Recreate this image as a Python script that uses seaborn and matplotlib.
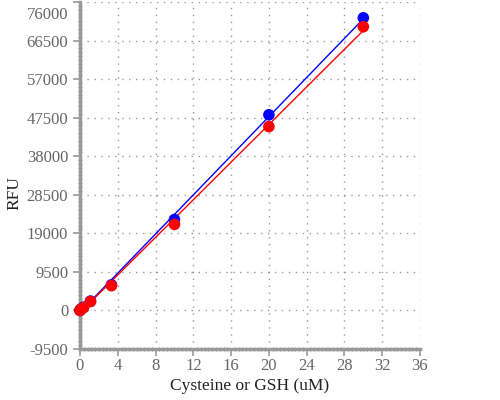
import matplotlib
matplotlib.use("Agg")
import matplotlib.pyplot as plt
from matplotlib.ticker import AutoMinorLocator
from matplotlib.transforms import ScaledTranslation
import seaborn as sns
import pandas as pd
import numpy as np

# concentrations (uM) and fluorescence readings
conc = [0, 0.041, 0.123, 0.37, 1.11, 3.33, 10, 20, 30]
cysteine_rfu = [0, 150, 350, 800, 2300, 6300, 22400, 48200, 72100]
gsh_rfu = [0, 120, 300, 700, 2200, 6100, 21200, 45300, 69900]

x_ticks = list(range(0, 37, 4))
y_ticks = list(range(-9500, 76001, 9500))

sns.set_style("ticks")
plt.rcParams['font.family'] = ['Liberation Serif', 'DejaVu Serif']
plt.rcParams['axes.unicode_minus'] = False

df = pd.DataFrame({"conc": conc, "Cysteine": cysteine_rfu, "GSH": gsh_rfu})

fig = plt.figure(figsize=(5, 4), dpi=100)
ax = fig.add_axes([0.16, 0.1275, 0.68, 0.8675])

colors = {"Cysteine": "#0000ff", "GSH": "#ff0000"}
for name in ["Cysteine", "GSH"]:
    slope, icpt = np.polyfit(df["conc"], df[name], 1)
    fit = pd.DataFrame({"conc": [df["conc"].min(), df["conc"].max()]})
    fit["y"] = slope * fit["conc"] + icpt
    sns.lineplot(data=fit, x="conc", y="y", color=colors[name], lw=1, ax=ax, zorder=2)
for name in ["Cysteine", "GSH"]:
    sns.scatterplot(data=df, x="conc", y=name, color=colors[name], s=70,
                    edgecolor="none", ax=ax, zorder=3, clip_on=False)

ax.set_xlim(0, 36)
ax.set_ylim(-9500, 76000)
ax.set_xticks(x_ticks)
ax.set_yticks(y_ticks)
ax.xaxis.set_minor_locator(AutoMinorLocator(10))
ax.yaxis.set_minor_locator(AutoMinorLocator(10))
ax.grid(True, which="major", ls=(0, (1, 4)), color="#999999", lw=1)
ax.set_axisbelow(True)

for s in ["top", "right"]:
    ax.spines[s].set_visible(False)
for s in ["left", "bottom"]:
    ax.spines[s].set_color("#999999")
    ax.spines[s].set_linewidth(2.5)
ax.tick_params(which="major", length=5, width=1.2, color="#999999",
               labelcolor="#666666", labelsize=12)
ax.tick_params(axis="x", which="major", pad=1.5)
ax.tick_params(which="minor", length=3, width=1, color="#999999", direction="inout")

# keep the top tick label inside the figure, as in the reference
top_lab = ax.get_yticklabels()[-1]
top_lab.set_transform(top_lab.get_transform() + ScaledTranslation(0, -8 / 72, fig.dpi_scale_trans))

ax.set_xlabel("Cysteine or GSH (uM)", fontsize=12.5, color="#222222")
ax.set_ylabel("RFU", fontsize=12.5, color="#222222")
ax.xaxis.set_label_coords(0.5, -0.085)
ax.yaxis.set_label_coords(-0.17, 0.45)

fig.savefig("out.png", dpi=100)
